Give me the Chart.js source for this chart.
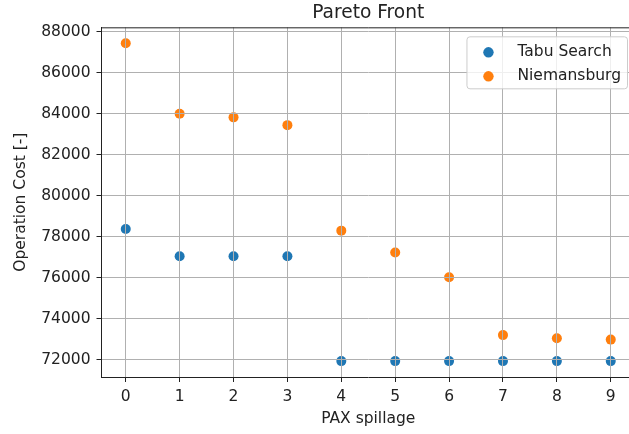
<!DOCTYPE html>
<html lang="en">
<head>
<meta charset="utf-8">
<title>Pareto Front</title>
<script src="https://cdn.jsdelivr.net/npm/chart.js@4/dist/chart.umd.min.js"></script>
<style>
  html, body { margin: 0; padding: 0; background: #fff; overflow: hidden; }
  body { width: 629px; height: 434px; }
  #chart { display: block; }
</style>
</head>
<body>
<canvas id="chart" width="640" height="434"></canvas>
<script>
// values
const paxSpillage = [0, 1, 2, 3, 4, 5, 6, 7, 8, 9];
const tabuSearch = [78380, 77050, 77050, 77050, 71930, 71930, 71930, 71930, 71930, 71930];
const niemansburg = [87450, 84010, 83830, 83450, 78300, 77230, 76020, 73200, 73050, 72980];
const yTicks = [72000, 74000, 76000, 78000, 80000, 82000, 84000, 86000, 88000];
const xTicks = [0, 1, 2, 3, 4, 5, 6, 7, 8, 9];

const blue = '#1f77b4';
const orange = '#ff7f0e';
const ink = '#222';

Chart.defaults.font.family = "'DejaVu Sans', sans-serif";
Chart.defaults.font.size = 15.5;
Chart.defaults.color = ink;

// matplotlib style 5% margins
const allY = tabuSearch.concat(niemansburg);
const yLo = Math.min(...allY), yHi = Math.max(...allY);
const yPad = (yHi - yLo) * 0.05;
const xPad = (paxSpillage[paxSpillage.length - 1] - paxSpillage[0]) * 0.05;

function pts(ys) {
    return paxSpillage.map((x, i) => ({x: x, y: ys[i]}));
}

// top spine + boxed legend inside the axes
const mplBits = {
    id: 'mplBits',
    afterDraw(chart) {
        const ctx = chart.ctx;
        const a = chart.chartArea;
        ctx.save();
        ctx.strokeStyle = ink;
        ctx.lineWidth = 1;
        ctx.beginPath();
        ctx.moveTo(a.left, a.top + 0.5);
        ctx.lineTo(a.right, a.top + 0.5);
        ctx.stroke();

        ctx.font = "15.5px 'DejaVu Sans', sans-serif";
        const sets = chart.data.datasets;
        const textW = Math.max(...sets.map(d => ctx.measureText(d.label).width));
        const w = 51 + textW + 6;
        const h = 52;
        const right = a.right - 8;
        const left = right - w;
        const top = a.top + 9;
        ctx.beginPath();
        ctx.roundRect(left + 0.5, top + 0.5, w, h, 3);
        ctx.fillStyle = 'rgba(255,255,255,0.8)';
        ctx.fill();
        ctx.strokeStyle = '#cccccc';
        ctx.stroke();
        sets.forEach((d, i) => {
            const cy = top + 16 + i * 24;
            ctx.beginPath();
            ctx.arc(left + 22, cy, 5.2, 0, Math.PI * 2);
            ctx.fillStyle = d.backgroundColor;
            ctx.fill();
            ctx.fillStyle = ink;
            ctx.textBaseline = 'middle';
            ctx.textAlign = 'left';
            ctx.fillText(d.label, left + 51, cy);
        });
        ctx.restore();
    }
};

const gridOpts = { color: '#b0b0b0', lineWidth: 1, z: 1, tickLength: 5, tickColor: ink };
const borderOpts = { color: ink, width: 1, z: 1 };

new Chart(document.getElementById('chart').getContext('2d'), {
    type: 'scatter',
    data: {
        datasets: [{
            label: 'Tabu Search',
            data: pts(tabuSearch),
            backgroundColor: blue,
            borderColor: blue,
            borderWidth: 0,
            pointRadius: 5,
            pointHoverRadius: 5
        }, {
            label: 'Niemansburg',
            data: pts(niemansburg),
            backgroundColor: orange,
            borderColor: orange,
            borderWidth: 0,
            pointRadius: 5,
            pointHoverRadius: 5
        }]
    },
    options: {
        responsive: false,
        animation: false,
        events: [],
        layout: { padding: { left: 0, right: 1.3, top: 0, bottom: 0 } },
        plugins: {
            legend: { display: false },
            tooltip: { enabled: false },
            title: {
                display: true,
                text: 'Pareto Front',
                fullSize: false,
                color: ink,
                font: { size: 18.6, weight: 'normal', lineHeight: 1.2 },
                padding: { top: 2, bottom: 3 }
            }
        },
        scales: {
            x: {
                type: 'linear',
                min: paxSpillage[0] - xPad,
                max: paxSpillage[paxSpillage.length - 1] + xPad,
                afterBuildTicks: s => { s.ticks = xTicks.map(v => ({value: v})); },
                afterFit: s => { s.height = 57; },
                grid: gridOpts,
                border: borderOpts,
                ticks: { padding: 6, color: ink, maxRotation: 0 },
                title: { display: true, text: 'PAX spillage', color: ink, padding: { top: 0, bottom: 5.5 } }
            },
            y: {
                type: 'linear',
                min: yLo - yPad,
                max: yHi + yPad,
                afterBuildTicks: s => { s.ticks = yTicks.map(v => ({value: v})); },
                afterFit: s => { s.width = 101.5; },
                grid: gridOpts,
                border: borderOpts,
                ticks: { padding: 6, color: ink, callback: v => String(v) },
                title: { display: true, text: 'Operation Cost [-]', color: ink, padding: { top: 12, bottom: 12 } }
            }
        }
    },
    plugins: [mplBits]
});
</script>
</body>
</html>
